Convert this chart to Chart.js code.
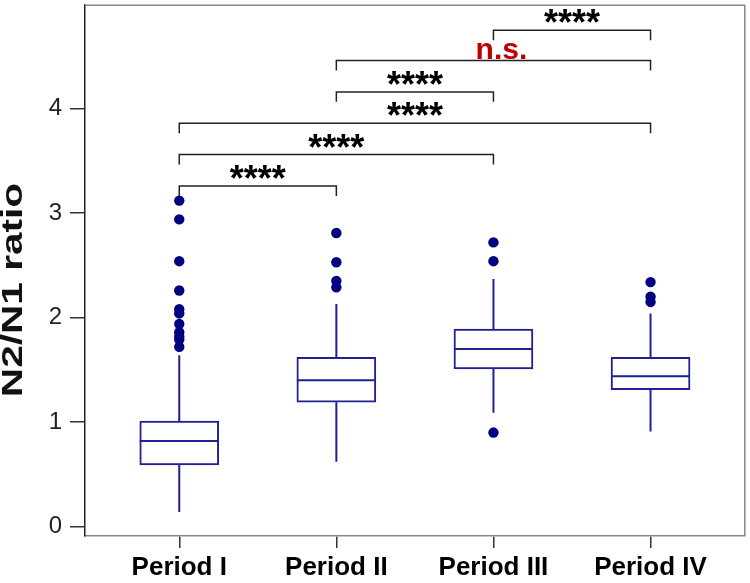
<!DOCTYPE html>
<html>
<head>
<meta charset="utf-8">
<script src="https://cdn.jsdelivr.net/npm/chart.js@4.4.1/dist/chart.umd.min.js"></script>
<style>
    html, body { margin: 0; padding: 0; background: #fff; }
    #wrap { width: 750px; height: 583px; position: relative; }
</style>
</head>
<body>
<div id="wrap"><canvas id="boxChart"></canvas></div>
<script>
// Kategorien und Boxplot-Kennwerte
const periodLabels = ['Period I', 'Period II', 'Period III', 'Period IV'];
const q1Values = [0.59, 1.19, 1.51, 1.31];
const medianValues = [0.82, 1.40, 1.70, 1.44];
const q3Values = [1.01, 1.62, 1.89, 1.62];
const whiskerLow = [0.14, 0.62, 1.09, 0.91];
const whiskerHigh = [1.64, 2.13, 2.37, 2.04];

// Ausreißer je Periode
const outliersPeriodI = [3.12, 2.94, 2.54, 2.26, 2.08, 2.04, 1.94, 1.86, 1.82, 1.79, 1.72];
const outliersPeriodII = [2.81, 2.53, 2.35, 2.29];
const outliersPeriodIII = [2.72, 2.54, 0.90];
const outliersPeriodIV = [2.34, 2.20, 2.15];

// Signifikanz-Klammern
const bracketFrom = [1, 1, 1, 2, 2, 3];
const bracketTo = [2, 3, 4, 3, 4, 4];
const bracketLevel = [3.26, 3.56, 3.86, 4.16, 4.46, 4.75];
const bracketText = ['****', '****', '****', '****', 'n.s.', '****'];

const yTickValues = [0, 1, 2, 3, 4];
const yAxisTitle = 'N2/N1 ratio';

const FONT = "'Liberation Sans', Arial, Helvetica, sans-serif";
const BOX_COLOR = '#1f1f96';
const POINT_COLOR = '#000080';

const outlierPoints = [outliersPeriodI, outliersPeriodII, outliersPeriodIII, outliersPeriodIV]
    .flatMap((list, i) => list.map(v => ({ x: i + 1, y: v })));

const boxExtras = {
    id: 'boxExtras',
    beforeDatasetsDraw(chart) {
        const { ctx, scales: { x, y } } = chart;
        ctx.save();
        ctx.strokeStyle = BOX_COLOR;
        ctx.lineWidth = 2;
        periodLabels.forEach((_, i) => {
            const px = x.getPixelForValue(i + 1);
            ctx.beginPath();
            ctx.moveTo(px, y.getPixelForValue(q3Values[i]));
            ctx.lineTo(px, y.getPixelForValue(whiskerHigh[i]));
            ctx.moveTo(px, y.getPixelForValue(q1Values[i]));
            ctx.lineTo(px, y.getPixelForValue(whiskerLow[i]));
            ctx.stroke();
        });
        ctx.restore();
    },
    afterDatasetsDraw(chart) {
        const { ctx, chartArea, scales: { x, y } } = chart;
        ctx.save();
        // Median
        ctx.strokeStyle = BOX_COLOR;
        ctx.lineWidth = 2;
        const meta = chart.getDatasetMeta(0);
        periodLabels.forEach((_, i) => {
            const bar = meta.data[i];
            const half = bar.width / 2;
            const py = y.getPixelForValue(medianValues[i]);
            ctx.beginPath();
            ctx.moveTo(bar.x - half, py);
            ctx.lineTo(bar.x + half, py);
            ctx.stroke();
        });

        // Klammern
        ctx.strokeStyle = '#222';
        ctx.lineWidth = 1.5;
        bracketFrom.forEach((from, i) => {
            const x1 = x.getPixelForValue(from);
            const x2 = x.getPixelForValue(bracketTo[i]);
            const yl = y.getPixelForValue(bracketLevel[i]);
            const yd = y.getPixelForValue(bracketLevel[i] - 0.095);
            ctx.beginPath();
            ctx.moveTo(x1, yd);
            ctx.lineTo(x1, yl);
            ctx.lineTo(x2, yl);
            ctx.lineTo(x2, yd);
            ctx.stroke();

            const isNs = bracketText[i] === 'n.s.';
            ctx.font = isNs ? `bold 30px ${FONT}` : `bold 36px ${FONT}`;
            ctx.fillStyle = isNs ? '#c00000' : '#000';
            ctx.textAlign = 'center';
            ctx.textBaseline = 'alphabetic';
            const m = ctx.measureText(bracketText[i]);
            const gap = isNs ? 2 : 7;
            const shift = isNs ? 8 : 0;
            ctx.fillText(bracketText[i], (x1 + x2) / 2 + shift, yl - gap - m.actualBoundingBoxDescent);
        });

        // Rahmen oben und rechts
        ctx.strokeStyle = '#888';
        ctx.lineWidth = 1.5;
        ctx.beginPath();
        ctx.moveTo(chartArea.left, chartArea.top);
        ctx.lineTo(chartArea.right, chartArea.top);
        ctx.lineTo(chartArea.right, chartArea.bottom);
        ctx.stroke();

        // y-Achsentitel (gestreckt wie im Original)
        ctx.translate(14, 290);
        ctx.rotate(-Math.PI / 2);
        ctx.scale(1.4, 1);
        ctx.font = `bold 29px ${FONT}`;
        ctx.fillStyle = '#111';
        ctx.textAlign = 'center';
        ctx.textBaseline = 'middle';
        ctx.fillText(yAxisTitle, 0, 0);
        ctx.restore();
    }
};

const ctx = document.getElementById('boxChart').getContext('2d');
new Chart(ctx, {
    type: 'bar',
    data: {
        datasets: [
            {
                type: 'bar',
                label: 'Box',
                data: periodLabels.map((_, i) => ({ x: i + 1, y: [q1Values[i], q3Values[i]] })),
                backgroundColor: '#fff',
                borderColor: BOX_COLOR,
                borderWidth: 2,
                borderSkipped: false,
                barThickness: 79,
                order: 2,
            },
            {
                type: 'scatter',
                label: 'Ausreißer',
                data: outlierPoints,
                backgroundColor: POINT_COLOR,
                borderColor: POINT_COLOR,
                borderWidth: 0,
                pointRadius: 5.2,
                order: 1,
            },
        ],
    },
    options: {
        responsive: true,
        maintainAspectRatio: false,
        animation: false,
        layout: { padding: { top: 2, right: 2, left: 0, bottom: 0 } },
        plugins: {
            legend: { display: false },
            tooltip: { enabled: false },
        },
        scales: {
            x: {
                type: 'linear',
                offset: false,
                min: 0.4,
                max: 4.6,
                afterBuildTicks: scale => {
                    scale.ticks = periodLabels.map((_, i) => ({ value: i + 1 }));
                },
                afterFit: scale => {
                    scale.height = 47;
                    scale.paddingLeft = 0;
                    scale.paddingRight = 0;
                },
                ticks: {
                    callback: value => periodLabels[value - 1],
                    font: { family: FONT, size: 26, weight: 'bold' },
                    color: '#000',
                    padding: 4,
                    maxRotation: 0,
                    autoSkip: false,
                },
                grid: { offset: false, drawOnChartArea: false, drawTicks: true, tickLength: 12, color: '#333', lineWidth: 1.5 },
                border: { display: true, color: '#888', width: 1.5 },
            },
            y: {
                type: 'linear',
                min: -0.09,
                max: 4.99,
                afterBuildTicks: scale => {
                    scale.ticks = yTickValues.map(v => ({ value: v }));
                },
                afterFit: scale => {
                    scale.width = 85;
                    scale.paddingTop = 0;
                    scale.paddingBottom = 0;
                },
                ticks: {
                    font: { family: FONT, size: 24 },
                    color: '#222',
                    padding: 8,
                },
                grid: { drawOnChartArea: false, drawTicks: true, tickLength: 15, color: '#333', lineWidth: 1.5 },
                border: { display: true, color: '#222', width: 1.5 },
            },
        },
    },
    plugins: [boxExtras],
});
</script>
</body>
</html>
